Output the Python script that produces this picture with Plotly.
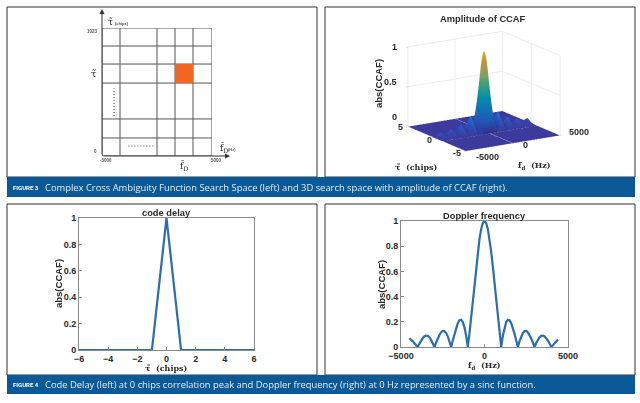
import plotly.graph_objects as go

W, H = 640, 403

# ---- data ----
delay_chips = [-6, -5, -4, -3, -2, -1, 0, 1, 2, 3, 4, 5, 6]
delay_amp = [0, 0, 0, 0, 0, 0, 1, 0, 0, 0, 0, 0, 0]

doppler_hz = [-4500, -4400, -4300, -4200, -4100, -4000, -3900, -3800, -3700, -3600, -3500, -3400, -3300, -3200, -3100,
              -3000, -2900, -2800, -2700, -2600, -2500, -2400, -2300, -2200, -2100, -2000, -1900, -1800, -1700, -1600,
              -1500, -1400, -1300, -1200, -1100, -1000, -900, -800, -700, -600, -500, -400, -300, -200, -100, 0,
              100, 200, 300, 400, 500, 600, 700, 800, 900, 1000, 1100, 1200, 1300, 1400, 1500, 1600, 1700, 1800, 1900,
              2000, 2100, 2200, 2300, 2400, 2500, 2600, 2700, 2800, 2900, 3000, 3100, 3200, 3300, 3400, 3500, 3600,
              3700, 3800, 3900, 4000, 4100, 4200, 4300, 4400]
doppler_amp = [.07, .06, .045, .03, .015, 0, .025, .05, .07, .084, .091, .089, .078, .058, .032,
               0, .034, .067, .095, .116, .127, .126, .112, .085, .047, 0, .052, .104, .151, .189,
               .212, .216, .198, .156, .089, 0, .109, .234, .368, .505, .637, .757, .858, .935, .984, 1,
               .984, .935, .858, .757, .637, .505, .368, .234, .109, 0, .089, .156, .198, .216, .212, .189, .151, .104, .052,
               0, .047, .085, .112, .126, .127, .116, .095, .067, .034, 0, .032, .058, .078, .089, .091, .084,
               .07, .05, .025, 0, .015, .03, .045, .06]

surface_hz_left = [-5000, -4900, -4800, -4700, -4600]
surface_amp_left = [.0, .02, .04, .06, .07]
surface_hz_right = [4500, 4600, 4700, 4800, 4900, 5000]
surface_amp_right = [.07, .07, .06, .04, .02, .0]
surface_tau = [-5, -3, -1.5, -1, -.75, -.5, -.25, 0, .25, .5, .75, 1, 1.5, 3, 5]
surface_tau_amp = [0, 0, 0, 0, .25, .5, .75, 1, .75, .5, .25, 0, 0, 0, 0]

grid_hz = [-5000, -3364, 0, 1636, 3273, 5000]
grid_tau = [0, 144, 296, 583, 735, 879, 1023]
cell_hz = [1636, 3273, 3273, 1636, 1636]
cell_tau = [583, 583, 735, 735, 583]

caption3 = "Complex Cross Ambiguity Function Search Space (left) and 3D search space with amplitude of CCAF (right)."
caption4 = "Code Delay (left) at 0 chips correlation peak and Doppler frequency (right) at 0 Hz represented by a sinc function."

BLUE_LINE = "#2A6EAC"
DARK = "#2a2a2a"
AX = "#8a8a8a"
SANS = "Liberation Sans"
SERIF = "DejaVu Serif"
BAR = "#0B5996"

def px(x): return x / W
def py(y): return 1 - y / H
def dom_x(a, b): return [px(a), px(b)]
def dom_y(top, bottom): return [py(bottom), py(top)]

fig = go.Figure()

# diagram grid
for i, h in enumerate(grid_hz):
    low = -144 if h in (1636, 3273) else 0
    fig.add_trace(go.Scatter(x=[h, h], y=[low, 1023], xaxis="x3", yaxis="y3", mode="lines",
                             line=dict(color="#555", width=1), cliponaxis=False, hoverinfo="skip"))
for t in grid_tau:
    left = -6727 if t in (583, 735) else -5000
    fig.add_trace(go.Scatter(x=[left, 5000], y=[t, t], xaxis="x3", yaxis="y3", mode="lines",
                             line=dict(color="#555", width=1), cliponaxis=False, hoverinfo="skip"))
fig.add_trace(go.Scatter(x=cell_hz, y=cell_tau, xaxis="x3", yaxis="y3", mode="lines", fill="toself",
                         fillcolor="#F26522", line=dict(color="#F26522", width=0), hoverinfo="skip"))
fig.add_trace(go.Scatter(x=[-3900, -3900], y=[320, 540], xaxis="x3", yaxis="y3", mode="lines",
                         line=dict(color="#555", width=1.2, dash="1px,2px"), hoverinfo="skip"))
fig.add_trace(go.Scatter(x=[-2600, -200], y=[80, 80], xaxis="x3", yaxis="y3", mode="lines",
                         line=dict(color="#555", width=1.2, dash="1px,2px"), hoverinfo="skip"))

# code delay
fig.add_trace(go.Scatter(x=delay_chips, y=delay_amp, xaxis="x", yaxis="y", mode="lines",
                         line=dict(color=BLUE_LINE, width=2.2), cliponaxis=False))
# doppler
fig.add_trace(go.Scatter(x=doppler_hz, y=doppler_amp, xaxis="x2", yaxis="y2", mode="lines",
                         line=dict(color=BLUE_LINE, width=2.2), cliponaxis=False))

# 3D surface
surf_hz = surface_hz_left + doppler_hz + surface_hz_right
surf_dop = surface_amp_left + doppler_amp + surface_amp_right
z = [[a * b for b in surf_dop] for a in surface_tau_amp]
parula = [[0, "#3B3A9C"], [.14, "#2A62D8"], [.29, "#1485d4"], [.43, "#06a7c6"], [.57, "#38b99e"],
          [.71, "#92bf73"], [.86, "#e0b040"], [1, "#f5d020"]]
fig.add_trace(go.Surface(x=surf_hz, y=surface_tau, z=z, colorscale=parula, cmin=0, cmax=1, showscale=False,
                         lighting=dict(ambient=.85, diffuse=.35, specular=.05, roughness=.9),
                         hoverinfo="skip", scene="scene"))

tickfont = dict(family=SANS, size=9, color=DARK, weight=700)

def axis(domain, rng, ticks, anchor):
    return dict(domain=domain, range=rng, tickvals=ticks, anchor=anchor, ticks="inside", ticklen=3, tickcolor=AX,
                showline=True, linecolor=AX, linewidth=1, mirror=True, showgrid=False, zeroline=False,
                tickfont=tickfont)

scene_axis = dict(showbackground=False, gridcolor="#ececec", showline=False, zeroline=False,
                  ticks="outside", ticklen=2, tickcolor="#999", showticklabels=False, title=dict(text=""),
                  showspikes=False)

fig.update_layout(
    width=W, height=H, margin=dict(l=0, r=0, t=0, b=0, autoexpand=False), autosize=False,
    paper_bgcolor="white", plot_bgcolor="white", showlegend=False,
    xaxis=axis(dom_x(79, 254), [-6, 6], [-6, -4, -2, 0, 2, 4, 6], "y"),
    yaxis=axis(dom_y(218, 350), [0, 1], [0, .2, .4, .6, .8, 1], "x"),
    xaxis2=axis(dom_x(401, 568), [-5000, 5000], [-5000, 0, 5000], "y2"),
    yaxis2=axis(dom_y(221, 347), [0, 1], [0, .2, .4, .6, .8, 1], "x2"),
    xaxis3=dict(domain=dom_x(102, 212), range=[-5000, 5000], visible=False, anchor="y3"),
    yaxis3=dict(domain=dom_y(28, 156), range=[0, 1023], visible=False, anchor="x3"),
    scene=dict(
        domain=dict(x=dom_x(330, 638), y=dom_y(14, 170)),
        xaxis=dict(scene_axis, range=[-5000, 5000], tickvals=[-5000, 0, 5000]),
        yaxis=dict(scene_axis, range=[-5, 5], tickvals=[-5, 0, 5]),
        zaxis=dict(scene_axis, range=[0, 1], tickvals=[0, .5, 1]),
        aspectmode="manual", aspectratio=dict(x=1.43, y=1.4, z=1.06),
        camera=dict(projection=dict(type="orthographic"), eye=dict(x=-.52, y=-.83, z=.26),
                    center=dict(x=0, y=0, z=-.01)),
        bgcolor="rgba(0,0,0,0)",
    ),
)

shapes = []
for x0, y0, x1, y1 in [(7, 7, 317, 177), (325, 7, 635, 177), (7, 204, 317, 375), (325, 204, 635, 375)]:
    shapes.append(dict(type="rect", xref="paper", yref="paper", x0=px(x0), x1=px(x1), y0=py(y0), y1=py(y1),
                       line=dict(color="#333", width=1), layer="below"))
for y0, y1 in [(177, 197), (375, 394)]:
    shapes.append(dict(type="rect", xref="paper", yref="paper", x0=px(7), x1=px(635), y0=py(y0), y1=py(y1),
                       fillcolor=BAR, line=dict(width=0), layer="below"))
fig.update_layout(shapes=shapes)

def note(x, y, text, size=8, family=SANS, color=DARK, bold=False, angle=0, xanchor="center"):
    return dict(x=px(x), y=py(y), xref="paper", yref="paper", text=f"<b>{text}</b>" if bold else text,
                showarrow=False, textangle=angle, xanchor=xanchor, yanchor="middle",
                font=dict(family=family, size=size, color=color))

def arrow(x0, y0, x1, y1):
    return dict(x=px(x1), y=py(y1), ax=x0 - x1, ay=y0 - y1, xref="paper", yref="paper", axref="pixel", ayref="pixel",
                text="", showarrow=True, arrowhead=2, arrowsize=1, arrowwidth=1, arrowcolor="#333")

annotations = [
    # diagram
    arrow(102, 156, 102, 9), arrow(102, 156, 230, 156),
    note(92, 32, "1023", 4.5, bold=True, color="#555"),
    note(95, 151, "0", 4.5, bold=True, color="#555"),
    note(106, 160, "-5000", 4.5, bold=True, color="#555"),
    note(216, 160, "5000", 4.5, bold=True, color="#555"),
    note(106, 22, "τ̃", 9, SERIF, xanchor="left"),
    note(113, 23.5, "(chips)", 4, bold=True, color="#555", xanchor="left"),
    note(94, 74, "τ̃", 10, SERIF),
    note(184, 166, "f̃<sub>D</sub>", 9, SERIF),
    note(218, 148, "f̃<sub>D</sub>", 9, SERIF, xanchor="left"),
    note(226, 150, "(Hz)", 4, bold=True, color="#555", xanchor="left"),
    # 3d
    note(483, 19, "Amplitude of CCAF", 9.3, bold=True),
    note(379, 84, "abs(CCAF)", 9.5, bold=True, angle=-90),
    note(394, 47, "1", 9, bold=True),
    note(390, 82, "0.5", 9, bold=True),
    note(394, 117, "0", 9, bold=True),
    note(400, 127, "5", 9, bold=True),
    note(429, 140, "0", 9, bold=True),
    note(457, 153, "-5", 9, bold=True),
    note(487, 157, "-5000", 9, bold=True),
    note(525, 145, "0", 9, bold=True),
    note(579, 132, "5000", 9, bold=True),
    note(416, 167, "τ̃  (chips)", 8, SERIF, bold=True),
    note(534, 165, "f̃<sub>d</sub>  (Hz)", 8, SERIF, bold=True),
    # delay
    note(166, 213, "code delay", 9.3, bold=True),
    note(58, 284, "abs(CCAF)", 9.5, bold=True, angle=-90),
    note(166, 368, "τ̃  (chips)", 8, SERIF, bold=True),
    # doppler
    note(484, 216, "Doppler frequency", 9.3, bold=True),
    note(381, 285, "abs(CCAF)", 9.5, bold=True, angle=-90),
    note(484, 365, "f̃<sub>d</sub>  (Hz)", 8, SERIF, bold=True),
    # captions
    note(11, 187, "FIGURE 3", 6, "Roboto", "white", True, xanchor="left"),
    note(43, 187, caption3, 9.4, "Open Sans", "#E4EEF6", xanchor="left"),
    note(11, 384.5, "FIGURE 4", 6, "Roboto", "white", True, xanchor="left"),
    note(43, 384.5, caption4, 9.4, "Open Sans", "#E4EEF6", xanchor="left"),
]
fig.update_layout(annotations=annotations)

fig.write_html("out.html", config={"displayModeBar": False},
               post_script="document.body.style.margin='0';document.documentElement.style.overflow='hidden';")
